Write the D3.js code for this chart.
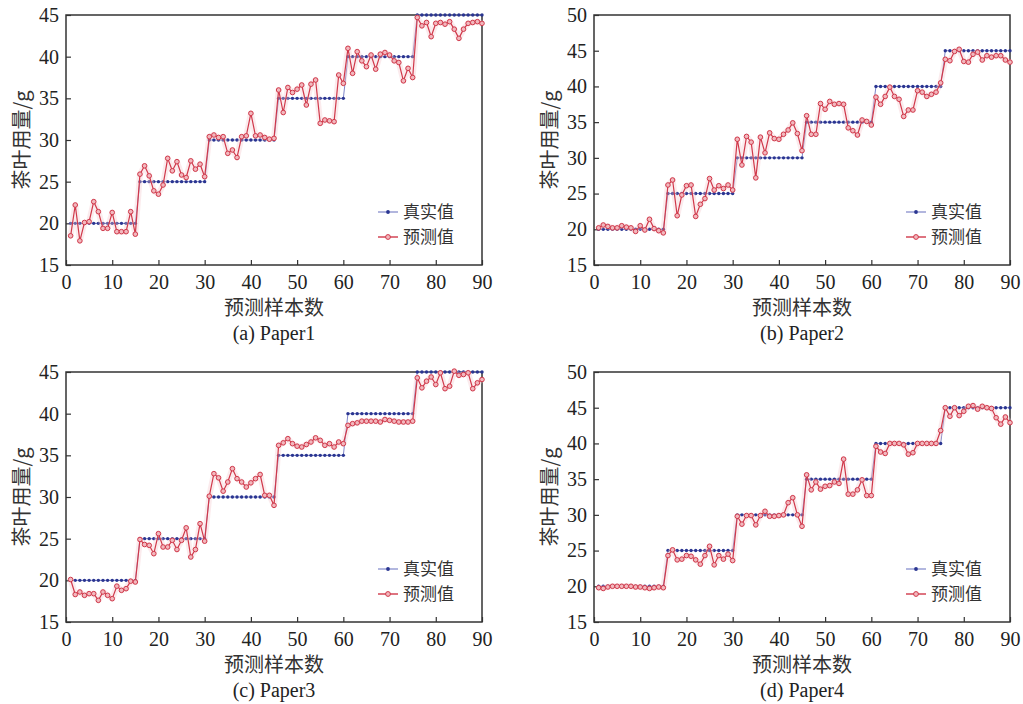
<!DOCTYPE html>
<html>
<head>
<meta charset="utf-8">
<script src="https://cdn.jsdelivr.net/npm/d3@7"></script>
<style>
  body { margin: 0; background: #fff; }
  .tick text { font-family: "Liberation Serif", "DejaVu Serif", serif; }
</style>
</head>
<body>
<script>
// true tea usage (same for all four papers), samples 1..90
const trueVals = [
  20,20,20,20,20,20,20,20,20,20,20,20,20,20,20,
  25,25,25,25,25,25,25,25,25,25,25,25,25,25,25,
  30,30,30,30,30,30,30,30,30,30,30,30,30,30,30,
  35,35,35,35,35,35,35,35,35,35,35,35,35,35,35,
  40,40,40,40,40,40,40,40,40,40,40,40,40,40,40,
  45,45,45,45,45,45,45,45,45,45,45,45,45,45,45
];

const predPaper1 = [
  18.5,22.2,17.9,20.1,20.2,22.6,21.4,19.4,19.4,21.3,19.0,19.0,19.0,21.4,18.7,
  25.9,26.9,25.7,23.9,23.5,24.6,27.8,26.3,27.4,25.8,25.5,27.5,26.5,27.1,25.6,
  30.4,30.6,30.3,30.4,28.4,28.8,27.9,30.4,30.5,33.2,30.5,30.6,30.3,30.1,30.2,
  36.0,33.3,36.3,35.7,36.1,36.6,34.2,36.7,37.2,32.0,32.4,32.3,32.2,37.8,36.8,
  41.0,38.0,40.6,39.5,38.8,40.2,38.5,40.3,40.5,40.2,39.5,39.3,37.1,38.6,37.5,
  44.7,43.7,44.1,42.4,44.0,44.1,43.9,44.2,43.3,42.2,43.3,44.0,44.1,44.2,44.0
];
const predPaper2 = [
  20.2,20.6,20.4,20.2,20.2,20.5,20.3,20.2,19.7,20.5,19.9,21.4,20.1,19.8,19.5,
  26.2,26.9,21.9,24.8,26.1,26.2,21.8,23.5,24.3,27.1,25.5,26.1,25.7,26.2,25.5,
  32.6,29.0,33.0,32.2,27.2,32.9,30.7,33.5,32.7,32.6,33.3,33.9,34.9,33.4,31.0,
  35.9,33.3,33.3,37.6,36.8,37.9,37.5,37.6,37.5,34.2,33.8,33.2,35.3,35.1,34.6,
  38.5,37.5,38.6,39.9,38.6,38.2,35.8,36.7,36.7,39.4,39.2,38.6,38.9,39.2,40.5,
  43.8,43.6,44.9,45.2,43.5,43.4,44.5,44.8,43.7,44.3,44.1,44.3,44.3,43.7,43.4
];
const predPaper3 = [
  20.1,18.3,18.6,18.2,18.4,18.4,17.6,18.6,18.2,17.8,19.3,18.8,19.0,19.9,19.8,
  24.9,24.3,24.2,23.2,25.6,24.0,24.0,24.8,23.7,24.8,26.3,22.8,23.7,26.8,24.7,
  30.1,32.8,32.3,30.7,31.8,33.4,32.2,31.8,31.2,31.7,32.2,32.7,30.2,30.2,29.0,
  36.2,36.5,37.0,36.4,36.1,36.0,36.3,36.6,37.1,36.8,36.2,36.4,36.0,36.6,36.4,
  38.6,38.8,38.9,39.1,39.1,39.1,39.1,39.0,39.3,39.2,39.1,39.0,39.0,39.0,39.1,
  44.3,43.1,43.9,44.4,43.5,44.9,43.0,43.3,45.1,44.6,44.7,44.9,43.0,43.7,44.1
];
const predPaper4 = [
  19.8,19.7,19.9,20.0,20.0,20.0,20.0,20.0,19.9,19.9,19.8,19.7,19.8,19.9,19.8,
  24.3,25.1,23.7,23.8,24.3,24.2,23.7,23.1,24.3,25.6,23.0,24.3,23.8,24.5,23.6,
  29.8,28.7,29.9,29.9,28.6,29.9,30.5,29.8,29.8,29.9,30.0,31.7,32.4,30.0,28.4,
  35.6,33.5,34.6,33.6,34.0,34.1,34.6,34.4,37.8,32.9,32.9,33.5,34.9,32.7,32.7,
  39.6,38.8,38.6,40.0,40.0,40.0,39.8,38.5,38.7,40.0,40.0,40.0,40.0,40.0,41.8,
  45.0,43.8,45.0,43.9,44.5,45.2,45.3,44.8,45.2,45.0,44.9,43.6,42.7,43.7,42.9
];

const captions = ['(a) Paper1', '(b) Paper2', '(c) Paper3', '(d) Paper4'];
const yMaxes = [45, 50, 45, 50];
const xTicks = [0, 10, 20, 30, 40, 50, 60, 70, 80, 90];
const legendLabels = ['真实值', '预测值'];
const xTitle = '预测样本数';
const yTitle = '茶叶用量/g';

const predList = [predPaper1, predPaper2, predPaper3, predPaper4];

// page layout
const W = 1023, H = 704;
const plotW = 416, plotH = 250;
const origins = [[66, 15], [594, 15], [66, 372], [594, 372]];

const blue = '#2a3591';
const blueLine = '#7f86c9';
const red = '#d0384a';
const cjk = '"Noto Sans CJK SC", sans-serif';
const serif = '"Liberation Serif", "DejaVu Serif", serif';

const svg = d3.select('body')
  .append('svg')
  .attr('width', W)
  .attr('height', H);

predList.forEach((pred, k) => {
  const [ox, oy] = origins[k];
  const g = svg.append('g').attr('transform', `translate(${ox},${oy})`);

  const xScale = d3.scaleLinear().domain([0, 90]).range([0, plotW]);
  const yScale = d3.scaleLinear().domain([15, yMaxes[k]]).range([plotH, 0]);
  const yTicks = d3.range(15, yMaxes[k] + 1, 5);

  // inward ticks
  const xAxis = d3.axisBottom(xScale).tickValues(xTicks).tickSizeInner(-5).tickSizeOuter(0).tickPadding(10);
  const yAxis = d3.axisLeft(yScale).tickValues(yTicks).tickSizeInner(-5).tickSizeOuter(0).tickPadding(7);

  const gx = g.append('g').attr('transform', `translate(0,${plotH})`).call(xAxis);
  const gy = g.append('g').call(yAxis);
  [gx, gy].forEach(a => {
    a.select('.domain').remove();
    a.selectAll('.tick line').attr('stroke', '#333').attr('stroke-width', 1.2);
    a.selectAll('.tick text').attr('fill', '#222').attr('font-size', 20);
  });

  // frame
  g.append('rect')
    .attr('width', plotW).attr('height', plotH)
    .attr('fill', 'none').attr('stroke', '#333').attr('stroke-width', 1.5);

  const pts = trueVals.map((v, i) => ({ x: i + 1, t: v, p: pred[i] }));
  const lineT = d3.line().x(d => xScale(d.x)).y(d => yScale(d.t));
  const lineP = d3.line().x(d => xScale(d.x)).y(d => yScale(d.p));

  // true values
  g.append('path').datum(pts).attr('d', lineT)
    .attr('fill', 'none').attr('stroke', blueLine).attr('stroke-width', 1);
  g.selectAll('.tdot').data(pts).enter().append('circle')
    .attr('cx', d => xScale(d.x)).attr('cy', d => yScale(d.t))
    .attr('r', 1.7).attr('fill', blue);

  // predicted values (soft halo + line + circles)
  g.append('path').datum(pts).attr('d', lineP)
    .attr('fill', 'none').attr('stroke', '#f3c6cc').attr('stroke-width', 6)
    .attr('stroke-opacity', 0.35).attr('stroke-linejoin', 'round');
  g.append('path').datum(pts).attr('d', lineP)
    .attr('fill', 'none').attr('stroke', red).attr('stroke-width', 1.2);
  g.selectAll('.pdot').data(pts).enter().append('circle')
    .attr('cx', d => xScale(d.x)).attr('cy', d => yScale(d.p))
    .attr('r', 2.3).attr('fill', '#f2b8be').attr('stroke', red).attr('stroke-width', 1);

  // legend
  const rowGap = 25;
  const lg = g.append('g').attr('transform', `translate(312,${plotH - 53})`);
  lg.append('line').attr('x1', 0).attr('x2', 20).attr('y1', 0).attr('y2', 0)
    .attr('stroke', blueLine).attr('stroke-width', 1.2);
  lg.append('circle').attr('cx', 10).attr('cy', 0).attr('r', 1.9).attr('fill', blue);
  lg.append('line').attr('x1', 0).attr('x2', 20).attr('y1', rowGap).attr('y2', rowGap)
    .attr('stroke', red).attr('stroke-width', 1.4);
  lg.append('circle').attr('cx', 10).attr('cy', rowGap).attr('r', 2.4)
    .attr('fill', '#f2b8be').attr('stroke', red).attr('stroke-width', 1);
  legendLabels.forEach((t, i) => {
    lg.append('text').attr('x', 25).attr('y', i * rowGap).attr('dy', '0.36em')
      .attr('font-family', cjk).attr('font-size', 17).attr('fill', '#333').text(t);
  });

  // titles
  g.append('text')
    .attr('transform', `translate(-44,${plotH / 2}) rotate(-90)`)
    .attr('text-anchor', 'middle').attr('dy', '0.36em')
    .attr('font-family', cjk).attr('font-size', 20).attr('fill', '#333')
    .text(yTitle);
  g.append('text')
    .attr('x', plotW / 2).attr('y', plotH + 43).attr('dy', '0.36em')
    .attr('text-anchor', 'middle')
    .attr('font-family', cjk).attr('font-size', 20).attr('fill', '#333')
    .text(xTitle);
  g.append('text')
    .attr('x', plotW / 2).attr('y', plotH + 68).attr('dy', '0.36em')
    .attr('text-anchor', 'middle')
    .attr('font-family', serif).attr('font-size', 20).attr('fill', '#222')
    .text(captions[k]);
});
</script>
</body>
</html>
